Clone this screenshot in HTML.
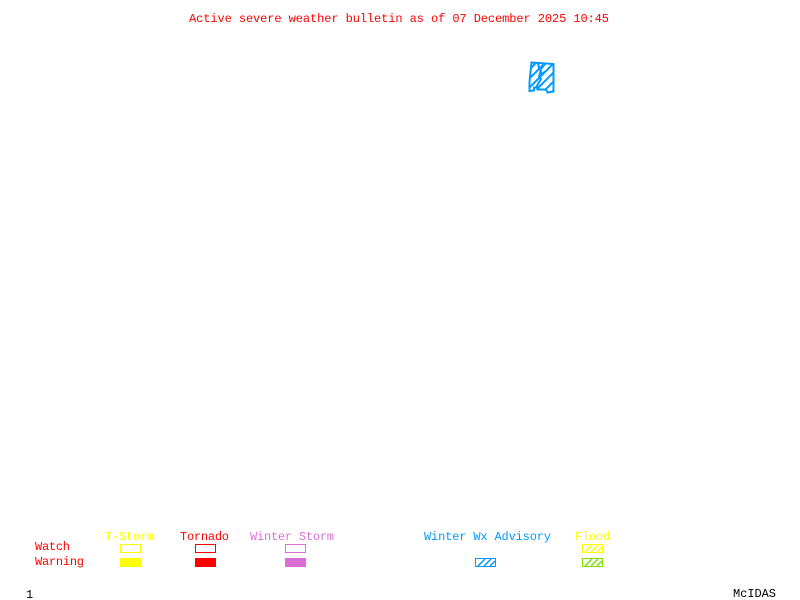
<!DOCTYPE html>
<html><head><meta charset="utf-8"><style>
html,body{margin:0;padding:0;background:#fff}
svg{display:block}
text{font-family:"Liberation Mono",monospace;font-size:12px}
</style></head><body>
<svg width="800" height="600" viewBox="0 0 800 600" xmlns="http://www.w3.org/2000/svg">
<defs>
<clipPath id="c"><path d="M531.5 62.5L553.5 64L553.5 91.5L547.5 92.5L546 89.5L537.5 89.5L537 87.5L534 87.5L534 90.5L529.5 91L529.5 82Z"/></clipPath>
</defs>
<rect width="800" height="600" fill="#fff"/>
<text x="189" y="22" fill="#f00" textLength="420" lengthAdjust="spacing">Active severe weather bulletin as of 07 December 2025 10:45</text>

<g fill="none" stroke="#0099ff">
<path clip-path="url(#c)" stroke-width="2" d="M525 74L539 60M525 83L548 60M525 92L557 60M530 96L562 64M539 96L562 73M548 96L562 82"/>
<path stroke-width="2" d="M531.5 62.5L553.5 64L553.5 91.5L547.5 92.5L546 89.5L537.5 89.5L537 87.5L534 87.5L534 90.5L529.5 91L529.5 82Z"/>
<path stroke-width="2" d="M538 63L539 68L541 71L539 76L541 79L538 84L536 88"/>
<path stroke-width="2" d="M546 71L542 74L540 71M545 64L541 69"/>
</g>

<g font-size="12">
<text x="105" y="540" fill="#ff0" textLength="49" lengthAdjust="spacing">T-Storm</text>
<text x="180" y="540" fill="#f00" textLength="49" lengthAdjust="spacing">Tornado</text>
<text x="250" y="540" fill="#da70d6" textLength="84" lengthAdjust="spacing">Winter Storm</text>
<text x="424" y="540" fill="#0099ff" textLength="127" lengthAdjust="spacing">Winter Wx Advisory</text>
<text x="575" y="540" fill="#ff0" textLength="35" lengthAdjust="spacing">Flood</text>
<text x="35" y="550" fill="#f00" textLength="35" lengthAdjust="spacing">Watch</text>
<text x="35" y="565" fill="#f00" textLength="49" lengthAdjust="spacing">Warning</text>
<text x="26" y="598" fill="#000">1</text>
<text x="733" y="597" fill="#000" textLength="43" lengthAdjust="spacing">McIDAS</text>
</g>

<g shape-rendering="crispEdges">
<rect x="120.5" y="544.5" width="20" height="8" fill="none" stroke="#ff0"/>
<rect x="195.5" y="544.5" width="20" height="8" fill="none" stroke="#f00"/>
<rect x="285.5" y="544.5" width="20" height="8" fill="none" stroke="#da70d6"/>
<rect x="120" y="558" width="21" height="9" fill="#ff0"/>
<rect x="195" y="558" width="21" height="9" fill="#f00"/>
<rect x="285" y="558" width="21" height="9" fill="#da70d6"/>
</g>

<g fill="none" stroke="#0099ff">
<rect x="475.5" y="558.5" width="20" height="8" shape-rendering="crispEdges"/>
<path stroke-width="1.5" d="M478 566L485 559M484 566L491 559M490 566L495 561"/>
</g>
<g fill="none" stroke="#ff0">
<rect x="582.5" y="544.5" width="20" height="8" shape-rendering="crispEdges"/>
<path stroke-width="1.5" d="M585 552L592 545M591 552L598 545M597 552L602 547"/>
</g>
<g fill="none" stroke="#7fdd00">
<rect x="582.5" y="558.5" width="20" height="8" shape-rendering="crispEdges"/>
<path stroke-width="1.5" d="M585 566L592 559M591 566L598 559M597 566L602 561"/>
</g>
</svg>
</body></html>
